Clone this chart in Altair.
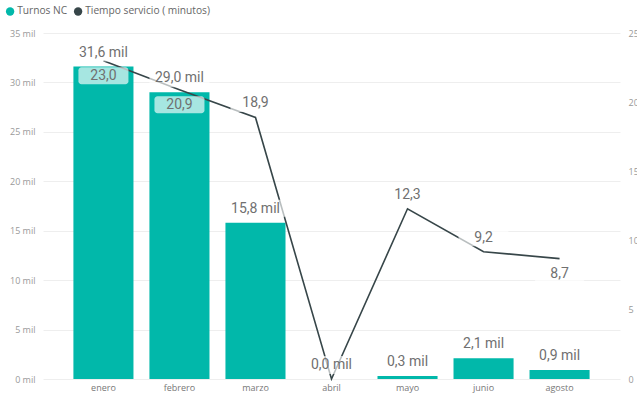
import altair as alt
import pandas as pd

months = ["enero", "febrero", "marzo", "abril", "mayo", "junio", "agosto"]
turnos_mil = [31.6, 29.0, 15.8, 0.0, 0.3, 2.1, 0.9]
tiempo_min = [23.0, 20.9, 18.9, 0.0, 12.3, 9.2, 8.7]
tiempo_label_pos = ["below", "below", "above", None, "above", "above", "below"]
series = ["Turnos NC", "Tiempo servicio ( minutos)"]
colors = ["#01B8AA", "#374649"]


def fmt(v):
    return f"{v:.1f}".replace(".", ",")


df = pd.DataFrame({
    "mes": months,
    "turnos": turnos_mil,
    "tiempo": tiempo_min,
    "pos": tiempo_label_pos,
    "serie": series[0],
})
df["turnos_lbl"] = [fmt(v) + " mil" for v in turnos_mil]
df["tiempo_lbl"] = [fmt(v) for v in tiempo_min]


def box_path(W, H, r):
    s = W / 2.0
    h = H / 2.0 / s
    rr = r / s
    return (f"M{-1+rr},{-h} H{1-rr} A{rr},{rr} 0 0 1 1,{-h+rr} V{h-rr} "
            f"A{rr},{rr} 0 0 1 {1-rr},{h} H{-1+rr} A{rr},{rr} 0 0 1 -1,{h-rr} "
            f"V{-h+rr} A{rr},{rr} 0 0 1 {-1+rr},{-h} Z")


FONT_LBL = "Roboto"
LBL_COLOR = "#707070"
AX_FONT = "Open Sans"

x_enc = alt.X("mes:N", sort=months,
              scale=alt.Scale(paddingInner=0.21, paddingOuter=0.4),
              axis=alt.Axis(title=None, labelAngle=0, domain=False, ticks=False,
                            labelPadding=4, labelColor="#777777", labelFontSize=9,
                            labelFont=AX_FONT))

left_scale = alt.Scale(domain=[0, 35], nice=False)
right_scale = alt.Scale(domain=[0, 25], nice=False)

base = alt.Chart(df)

bars = base.mark_bar().encode(
    x=x_enc,
    y=alt.Y("turnos:Q", scale=left_scale,
            axis=alt.Axis(title=None, values=[0, 5, 10, 15, 20, 25, 30, 35],
                          labelExpr="datum.value + ' mil'", grid=True,
                          gridColor="#eeeeee", domain=False, ticks=False,
                          labelPadding=8, labelFontSize=9, labelColor="#999999",
                          labelFont=AX_FONT)),
    color=alt.Color("serie:N", scale=alt.Scale(domain=series, range=colors),
                    legend=alt.Legend(title=None, orient="none", direction="horizontal",
                                      legendX=-38, legendY=-27, symbolType="circle",
                                      symbolSize=70, symbolStrokeWidth=0,
                                      labelFontSize=10.2, labelColor="#666666",
                                      labelFont="Open Sans", labelOffset=2,
                                      columnPadding=5)),
)

line = base.mark_line(color=colors[1], strokeWidth=1.6).encode(
    x=alt.X("mes:N", sort=months),
    y=alt.Y("tiempo:Q", scale=right_scale,
            axis=alt.Axis(title=None, orient="right", values=[0, 5, 10, 15, 20, 25],
                          grid=False, domain=False, ticks=False, labelPadding=8,
                          labelFontSize=9, labelColor="#999999", labelFont=AX_FONT)),
)

bar_box = base.mark_point(shape=box_path(60, 18, 3), size=60 * 60, filled=True,
                          fill="white", fillOpacity=0.65, strokeWidth=0,
                          yOffset=-14).encode(
    x=alt.X("mes:N", sort=months),
    y=alt.Y("turnos:Q", scale=left_scale, axis=None),
)

bar_text = base.mark_text(font=FONT_LBL, fontSize=14, color=LBL_COLOR,
                          baseline="middle", dy=-14).encode(
    x=alt.X("mes:N", sort=months),
    y=alt.Y("turnos:Q", scale=left_scale, axis=None),
    text="turnos_lbl:N",
)


def line_label_layers(pos, off):
    b = base.transform_filter(alt.datum.pos == pos)
    box = b.mark_point(shape=box_path(50, 17, 3), size=50 * 50, filled=True,
                       fill="white", fillOpacity=0.65, strokeWidth=0,
                       yOffset=off).encode(
        x=alt.X("mes:N", sort=months),
        y=alt.Y("tiempo:Q", scale=right_scale, axis=None),
    )
    txt = b.mark_text(font=FONT_LBL, fontSize=14, color=LBL_COLOR,
                      baseline="middle", dy=off).encode(
        x=alt.X("mes:N", sort=months),
        y=alt.Y("tiempo:Q", scale=right_scale, axis=None),
        text="tiempo_lbl:N",
    )
    return box, txt


above_box, above_txt = line_label_layers("above", -14)
below_box, below_txt = line_label_layers("below", 15)

chart = alt.layer(
    bars, line, bar_box, bar_text, above_box, above_txt, below_box, below_txt
).resolve_scale(y="independent").properties(
    width=577, height=346,
    autosize=alt.AutoSizeParams(type="none"),
    padding={"left": 43, "top": 33, "right": 17, "bottom": 15},
).configure_view(stroke=None)

chart.save("out.html", embed_options={"renderer": "svg", "actions": False})
